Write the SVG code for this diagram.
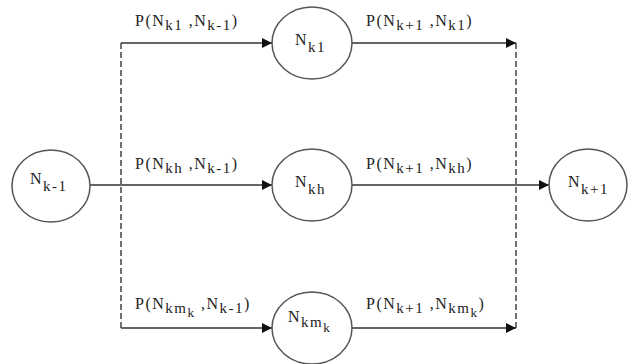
<svg xmlns="http://www.w3.org/2000/svg" width="631" height="364" viewBox="0 0 631 364">
<style>
.node ellipse{fill:#fff;stroke:#555;stroke-width:1.5}
.ln{fill:none;stroke:#333;stroke-width:1.5}
.ln.a{marker-end:url(#arr)}
.dash{fill:none;stroke:#444;stroke-width:1.5;stroke-dasharray:6 3}
text{font-family:'Liberation Serif','DejaVu Serif',serif;font-size:16px;fill:#222;letter-spacing:1.5px}
.s{font-size:15px}
.ss{font-size:13px}
</style>
<defs>
<marker id="arr" markerUnits="userSpaceOnUse" markerWidth="11" markerHeight="11" refX="10" refY="5" orient="auto">
<path d="M0,0 L10,5 L0,10 z" fill="#111"/>
</marker>
</defs>
<g id="connectors">
<line class="dash" x1="121" y1="43" x2="121" y2="328"/>
<line class="dash" x1="516" y1="43" x2="516" y2="328"/>
<line class="ln a" x1="121" y1="43" x2="272" y2="43"/>
<line class="ln a" x1="90" y1="185" x2="272" y2="185"/>
<line class="ln a" x1="121" y1="328" x2="272" y2="328"/>
<line class="ln a" x1="352" y1="43" x2="516" y2="43"/>
<line class="ln a" x1="352" y1="185" x2="549" y2="185"/>
<line class="ln a" x1="352" y1="328" x2="516" y2="328"/>
<text x="135" y="26" font-family="Liberation Serif, serif">P(N<tspan class="s" dy="4">k1</tspan><tspan dy="-4"> ,N</tspan><tspan class="s" dy="4">k-1</tspan><tspan dy="-4">)</tspan></text>
<text x="366" y="26">P(N<tspan class="s" dy="4">k+1</tspan><tspan dy="-4"> ,N</tspan><tspan class="s" dy="4">k1</tspan><tspan dy="-4">)</tspan></text>
<text x="135" y="169">P(N<tspan class="s" dy="4">kh</tspan><tspan dy="-4"> ,N</tspan><tspan class="s" dy="4">k-1</tspan><tspan dy="-4">)</tspan></text>
<text x="366" y="169">P(N<tspan class="s" dy="4">k+1</tspan><tspan dy="-4"> ,N</tspan><tspan class="s" dy="4">kh</tspan><tspan dy="-4">)</tspan></text>
<text x="135" y="309">P(N<tspan class="s" dy="4">km</tspan><tspan class="ss" dy="4">k</tspan><tspan dy="-8"> ,N</tspan><tspan class="s" dy="4">k-1</tspan><tspan dy="-4">)</tspan></text>
<text x="366" y="309">P(N<tspan class="s" dy="4">k+1</tspan><tspan dy="-4"> ,N</tspan><tspan class="s" dy="4">km</tspan><tspan class="ss" dy="4">k</tspan><tspan dy="-8">)</tspan></text>
</g>
<g id="n_km1" class="node">
<ellipse cx="51" cy="186" rx="39" ry="36"/>
<text x="30" y="184">N<tspan class="s" dy="7">k-1</tspan></text>
</g>
<g id="n_k1" class="node">
<ellipse cx="312" cy="43" rx="40" ry="36"/>
<text x="295" y="45">N<tspan class="s" dy="7">k1</tspan></text>
</g>
<g id="n_kh" class="node">
<ellipse cx="312" cy="185" rx="40" ry="36"/>
<text x="295" y="187">N<tspan class="s" dy="7">kh</tspan></text>
</g>
<g id="n_kmk" class="node">
<ellipse cx="312" cy="328" rx="40" ry="36"/>
<text x="288" y="322">N<tspan class="s" dy="5">km</tspan><tspan class="ss" dy="5">k</tspan></text>
</g>
<g id="n_kp1" class="node">
<ellipse cx="588" cy="185" rx="39" ry="36"/>
<text x="568" y="187">N<tspan class="s" dy="7">k+1</tspan></text>
</g>
</svg>
